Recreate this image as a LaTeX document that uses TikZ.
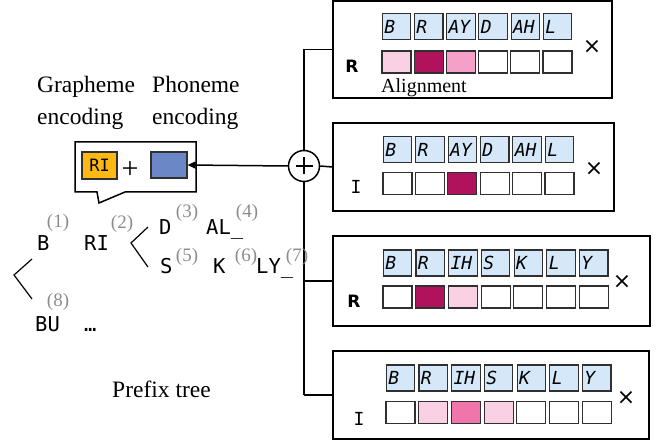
\documentclass[tikz,border=0pt]{standalone}
\usepackage{fontspec}
\setmainfont{Liberation Serif}
\newfontfamily\monof{DejaVu Sans Mono}
\newfontfamily\sansf{DejaVu Sans}
\usetikzlibrary{arrows.meta}
\definecolor{phblue}{HTML}{D5E8FA}
\definecolor{dm}{HTML}{B0125B}
\definecolor{lp}{HTML}{FAD0E4}
\definecolor{mp}{HTML}{F5A0C9}
\definecolor{hp}{HTML}{F075AB}
\definecolor{orng}{HTML}{FDB813}
\definecolor{blu}{HTML}{6C87C6}
\definecolor{sgray}{HTML}{8C8C8C}
\definecolor{cellline}{HTML}{303030}
\tikzset{
  panel/.style={draw=black, line width=1.5pt, fill=white, inner sep=0pt},
  phcell/.style={draw=cellline, line width=1.1pt, fill=phblue, minimum height=26pt,
     text width=24.5pt, inner xsep=2pt, inner ysep=0pt, align=left,
     font=\monof\itshape\fontsize{18}{18}\selectfont},
  alcell/.style={draw=cellline, line width=1.1pt, minimum width=29pt, minimum height=22pt, inner sep=0pt},
  tree/.style={font=\monof\fontsize{20.5}{20.5}\selectfont, inner sep=0pt, anchor=base west},
  sup/.style={font=\fontsize{19}{19}\selectfont, text=sgray, inner sep=0pt},
  serif/.style={font=\fontsize{23.5}{23.5}\selectfont, inner sep=0pt, anchor=base west},
  rlab/.style={font=\sansf\bfseries\fontsize{17}{17}\selectfont, inner sep=0pt},
  ilab/.style={font=\monof\fontsize{18}{18}\selectfont, inner sep=0pt},
  times/.style={font=\sansf\fontsize{22}{22}\selectfont, inner sep=0pt},
  conn/.style={line width=1.5pt},
  bracket/.style={line width=1.2pt},
}
\begin{document}
\begin{tikzpicture}[x=1pt,y=-1pt]
\useasboundingbox (0,0) rectangle (656,446);

% ---- panels ----
\node[panel, minimum width=279pt, minimum height=97pt] (box1) at (472.5,49.5) {};
\node[panel, minimum width=281pt, minimum height=88pt] (box2) at (473.5,167) {};
\node[panel, minimum width=317pt, minimum height=90pt] (box3) at (491.5,281) {};
\node[panel, minimum width=316pt, minimum height=88pt] (box4) at (491,395) {};

% ---- box 1 ----
\foreach \p [count=\i] in {B,R,AY,D,AH,L}
  \node[phcell] (pa\i) at ({382+(\i-1)*32.2+14.5},26.5) {\p};
\foreach \c [count=\i] in {lp,dm,mp,white,white,white}
  \node[alcell, fill=\c] (aa\i) at ({382+(\i-1)*32.2+14.5},62) {};
\node[rlab] (ra) at (352,66) {R};
\node[times] (xa) at (592,47) {×};
\node[font=\fontsize{20}{20}\selectfont, inner sep=0pt, anchor=base west] (algn) at (381,93) {Alignment};

% ---- box 2 ----
\foreach \p [count=\i] in {B,R,AY,D,AH,L}
  \node[phcell] (pb\i) at ({383+(\i-1)*32.4+14.5},149.5) {\p};
\foreach \c [count=\i] in {white,white,dm,white,white,white}
  \node[alcell, fill=\c] (ab\i) at ({383+(\i-1)*32.4+14.5},183.5) {};
\node[ilab] (ib) at (356,187) {I};
\node[times] (xb) at (594,169) {×};

% ---- box 3 ----
\foreach \p [count=\i] in {B,R,IH,S,K,L,Y}
  \node[phcell] (pc\i) at ({383+(\i-1)*32.7+14.5},263) {\p};
\foreach \c [count=\i] in {white,dm,lp,white,white,white,white}
  \node[alcell, fill=\c] (ac\i) at ({383+(\i-1)*32.7+14.5},297) {};
\node[rlab] (rc) at (354,301) {R};
\node[times] (xc) at (622,282) {×};

% ---- box 4 ----
\foreach \p [count=\i] in {B,R,IH,S,K,L,Y}
  \node[phcell] (pd\i) at ({386+(\i-1)*32.7+14.5},378) {\p};
\foreach \c [count=\i] in {white,lp,hp,lp,white,white,white}
  \node[alcell, fill=\c] (ad\i) at ({386+(\i-1)*32.7+14.5},412.5) {};
\node[ilab] (id) at (359,419) {I};
\node[times] (xd) at (626,398) {×};

% ---- sum node and connectors ----
\node[circle, draw=black, line width=1.5pt, fill=white, minimum size=31pt, inner sep=0pt] (sum) at (304,166) {};
\draw[conn] (sum.center) ++(-8.5,0) -- ++(17,0);
\draw[conn] (sum.center) ++(0,-8.5) -- ++(0,17);
\draw[conn] (box1.west -| sum.center) -- (sum.north);
\draw[conn] (sum.south) -- (box4.west -| sum.center);
\draw[conn] (box1.west -| sum.center) -- (box1.west);
\draw[conn] (sum.east) -- (box2.west);
\draw[conn] (box3.west -| sum.center) -- (box3.west);
\draw[conn] (box4.west -| sum.center) -- (box4.west);

% ---- callout ----
\draw[line width=1.5pt, fill=white] (75,142) -- (196,142) -- (196,192) -- (125,192) -- (99,203) -- (97,192) -- (75,192) -- cycle;
\node[draw=cellline, line width=1.1pt, fill=orng, minimum width=35pt, minimum height=27pt, inner sep=0pt,
      font=\monof\fontsize{17}{17}\selectfont] (ri) at (99.5,165.5) {RI};
\node[font=\fontsize{30}{30}\selectfont, inner sep=0pt] (plus) at (130,170) {+};
\node[draw=cellline, line width=1.1pt, fill=blu, minimum width=36pt, minimum height=26pt, inner sep=0pt] (ph) at (169,165) {};
\draw[conn, -{Triangle[length=8pt,width=7pt]}] (sum.west) -- (ph.east);

\node[serif] (g1) at (37,93) {Grapheme};
\node[serif] (g2) at (37,125) {encoding};
\node[serif] (p1) at (152,93) {Phoneme};
\node[serif] (p2) at (152,125) {encoding};

% ---- prefix tree ----
\node[tree] (tB) at (37,251) {B};
\node[tree] (tRI) at (84,251) {RI};
\node[tree] (tD) at (159,235) {D};
\node[tree] (tAL) at (206,235) {AL\_};
\node[tree] (tS) at (160,274) {S};
\node[tree] (tK) at (213,274) {K};
\node[tree] (tLY) at (256,274) {LY\_};
\node[tree] (tBU) at (35,332) {BU};
\node[tree] (tdots) at (84,331) {…};
\node[sup] (s1) at (58,223) {(1)};
\node[sup] (s2) at (122,224) {(2)};
\node[sup] (s3) at (187,213) {(3)};
\node[sup] (s4) at (247,213) {(4)};
\node[sup] (s5) at (187,257) {(5)};
\node[sup] (s6) at (246,257) {(6)};
\node[sup] (s7) at (297,257) {(7)};
\node[sup] (s8) at (58,302) {(8)};
\coordinate (lb1) at (32,259); \coordinate (lb2) at (14,275); \coordinate (lb3) at (32,299);
\draw[bracket] (lb1) -- (lb2) -- (lb3);
\coordinate (rb1) at (148,227); \coordinate (rb2) at (131,243); \coordinate (rb3) at (148,267);
\draw[bracket] (rb1) -- (rb2) -- (rb3);
\draw[conn] (box3.west -| sum.center) -- (box3.west);

\node[serif] (pt) at (112,397) {Prefix tree};
\end{tikzpicture}
\end{document}
